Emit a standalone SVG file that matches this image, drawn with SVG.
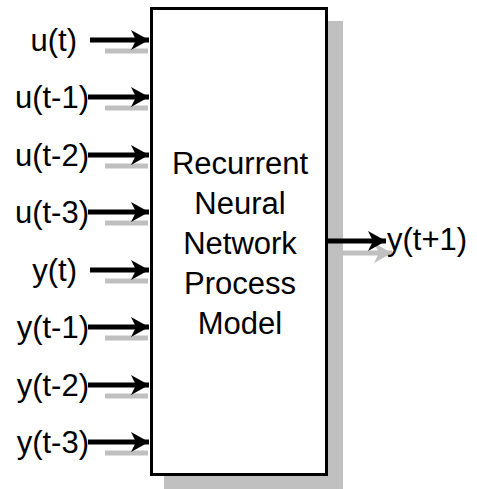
<svg xmlns="http://www.w3.org/2000/svg" width="477" height="489" viewBox="0 0 477 489">
<style>
text{font-family:"Liberation Sans",Arial,sans-serif;font-size:31px;fill:#000}
.lbl{text-anchor:end}
.ctr{text-anchor:middle}
.blk{stroke:#000;stroke-width:5;fill:none}
.gry{stroke:#c0c0c0;stroke-width:5;fill:none}
</style>
<defs>
<marker id="hb" markerUnits="userSpaceOnUse" markerWidth="20" markerHeight="22" refX="18" refY="11" orient="auto"><path d="M0,1 L18,11 L0,21 L5,11 Z" fill="#000"/></marker>
<marker id="hg" markerUnits="userSpaceOnUse" markerWidth="20" markerHeight="22" refX="18" refY="11" orient="auto"><path d="M0,1 L18,11 L0,21 L5,11 Z" fill="#c0c0c0"/></marker>
</defs>
<g id="connectors">
<g id="shadow-arrows">
<path class="gry" d="M105,51H148M105,108H148M105,166H148M105,223H148M105,281H148M105,338H148M105,396H148M105,453H148M343,253H392" marker-end="url(#hg)"/>
</g>
<g id="shadow-box"><rect x="164" y="21" width="179" height="480" fill="#c0c0c0"/></g>
<g id="black-arrows">
<path class="blk" d="M90,40H149" marker-end="url(#hb)"/>
<path class="blk" d="M88,97H149" marker-end="url(#hb)"/>
<path class="blk" d="M88,155H149" marker-end="url(#hb)"/>
<path class="blk" d="M88,212H149" marker-end="url(#hb)"/>
<path class="blk" d="M90,270H149" marker-end="url(#hb)"/>
<path class="blk" d="M88,327H149" marker-end="url(#hb)"/>
<path class="blk" d="M88,385H149" marker-end="url(#hb)"/>
<path class="blk" d="M88,442H149" marker-end="url(#hb)"/>
<path class="blk" d="M326,241H386" marker-end="url(#hb)"/>
</g>
</g>
<g id="model">
<rect x="151.5" y="8.5" width="175" height="466" fill="#fff" stroke="#000" stroke-width="3"/>
<text class="ctr" x="240" y="174">Recurrent</text>
<text class="ctr" x="240" y="214">Neural</text>
<text class="ctr" x="240" y="254">Network</text>
<text class="ctr" x="240" y="294">Process</text>
<text class="ctr" x="240" y="334">Model</text>
</g>
<g id="in-u-t"><text class="lbl" x="77" y="51">u(t)</text></g>
<g id="in-u-t1"><text class="lbl" x="89" y="108">u(t-1)</text></g>
<g id="in-u-t2"><text class="lbl" x="89" y="166">u(t-2)</text></g>
<g id="in-u-t3"><text class="lbl" x="89" y="223">u(t-3)</text></g>
<g id="in-y-t"><text class="lbl" x="77" y="281">y(t)</text></g>
<g id="in-y-t1"><text class="lbl" x="89" y="338">y(t-1)</text></g>
<g id="in-y-t2"><text class="lbl" x="89" y="396">y(t-2)</text></g>
<g id="in-y-t3"><text class="lbl" x="89" y="453">y(t-3)</text></g>
<g id="out-y"><text x="387" y="250">y(t+1)</text></g>
</svg>
